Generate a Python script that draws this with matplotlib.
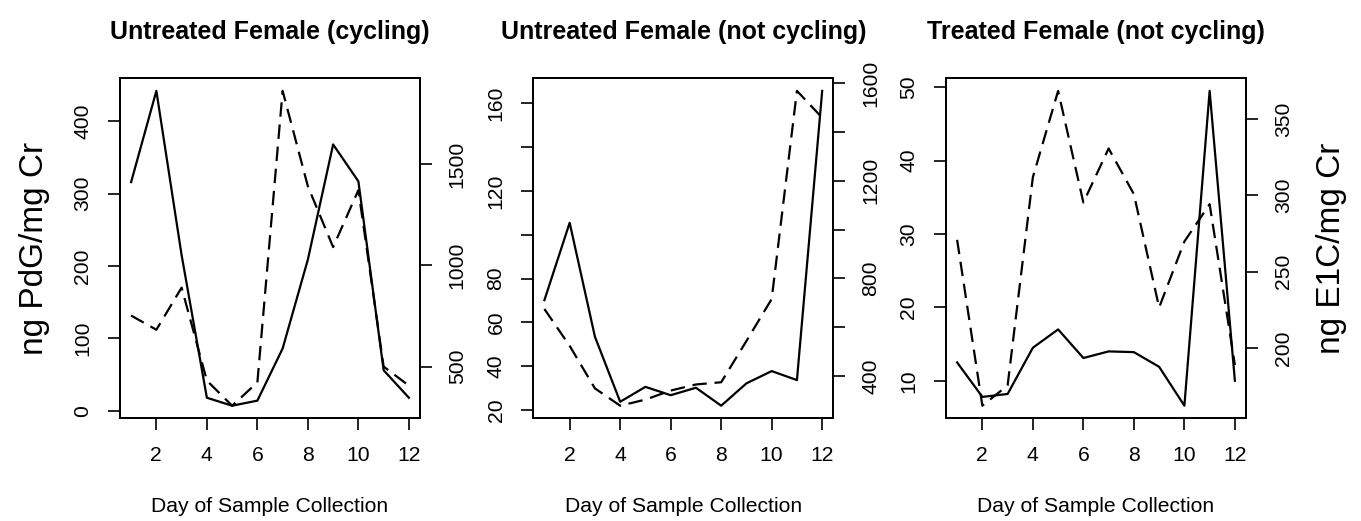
import matplotlib
matplotlib.use('Agg')
import matplotlib.pyplot as plt
import numpy as np

plt.rcParams['font.family'] = ['Liberation Sans', 'DejaVu Sans']

days = np.arange(1, 13)

# PdG (solid, left axis) and E1C (dashed, right axis), per animal
cyc_pdg = [316, 442, 215, 18, 7, 14, 86, 209, 368, 317, 56, 18]
cyc_e1c = [752, 682, 890, 431, 307, 422, 1861, 1390, 1090, 1371, 500, 406]

noncyc_pdg = [70.2, 105.5, 53.5, 23.8, 30.6, 26.8, 30.2, 22, 32.2, 37.8, 33.7, 165.7]
noncyc_e1c = [675, 524, 350, 279, 304, 341, 366, 375, 544, 716, 1568, 1458]

treat_pdg = [12.5, 7.8, 8.2, 14.5, 17.0, 13.1, 14.0, 13.9, 11.9, 6.6, 49.5, 10.0]
treat_e1c = [270.9, 162.3, 175.6, 311.9, 368.4, 295.3, 330.7, 300.8, 226.6, 269.8, 294.2, 188.9]

titles = ['Untreated Female (cycling)', 'Untreated Female (not cycling)',
          'Treated Female (not cycling)']

left_ticks = [[0, 100, 200, 300, 400],
              [20, 40, 60, 80, 100, 120, 140, 160],
              [10, 20, 30, 40, 50]]
left_labels = [['0', '100', '200', '300', '400'],
               ['20', '40', '60', '80', '', '120', '', '160'],
               ['10', '20', '30', '40', '50']]
right_ticks = [[500, 1000, 1500],
               [400, 600, 800, 1000, 1200, 1400, 1600],
               [200, 250, 300, 350]]
right_labels = [['500', '1000', '1500'],
                ['400', '', '800', '', '1200', '', '1600'],
                ['200', '250', '300', '350']]


def rlim(v):
    # R style axis range: data range padded by 4% each side
    lo, hi = min(v), max(v)
    d = 0.04 * (hi - lo)
    return lo - d, hi + d


W, H = 1361, 521
fig = plt.figure(figsize=(W / 100, H / 100), dpi=100)
lefts = [120 / W, 533.3 / W, 946 / W]

pdg_all = [cyc_pdg, noncyc_pdg, treat_pdg]
e1c_all = [cyc_e1c, noncyc_e1c, treat_e1c]

for i in range(3):
    ax = fig.add_axes([lefts[i], (H - 418.3) / H, 300 / W, 340 / H])
    ax.plot(days, pdg_all[i], color='black', lw=1.6)
    ax.set_xlim(0.56, 12.44)
    ax.set_ylim(*rlim(pdg_all[i]))
    ax.set_xticks([2, 4, 6, 8, 10, 12])
    ax.set_yticks(left_ticks[i])
    ax.set_yticklabels(left_labels[i])
    ax.tick_params(direction='out', length=8.5, width=1.2, labelsize=15.2, pad=11.5)
    ax.tick_params(axis='y', labelrotation=90)
    plt.setp(ax.get_yticklabels(), va='center')
    for s in ax.spines.values():
        s.set_linewidth(1.3)
    ax.set_xlabel('Day of Sample Collection', fontsize=15.2, labelpad=23)
    ax.set_title(titles[i], fontsize=18, fontweight='bold', pad=28)

    ax2 = ax.twinx()
    ax2.plot(days, e1c_all[i], color='black', lw=1.6, ls=(0, (6.5, 3.5)))
    ax2.set_ylim(*rlim(e1c_all[i]))
    ax2.set_yticks(right_ticks[i])
    ax2.set_yticklabels(right_labels[i])
    ax2.tick_params(direction='out', length=8.5, width=1.2, labelsize=15.2, pad=11.5)
    ax2.tick_params(axis='y', labelrotation=90)
    plt.setp(ax2.get_yticklabels(), va='center')
    for s in ax2.spines.values():
        s.set_linewidth(1.3)

    if i == 0:
        ax.set_ylabel('ng PdG/mg Cr', fontsize=24, labelpad=17)
    if i == 2:
        ax2.set_ylabel('ng E1C/mg Cr', fontsize=24, labelpad=17)

fig.savefig('out.png', dpi=100)
